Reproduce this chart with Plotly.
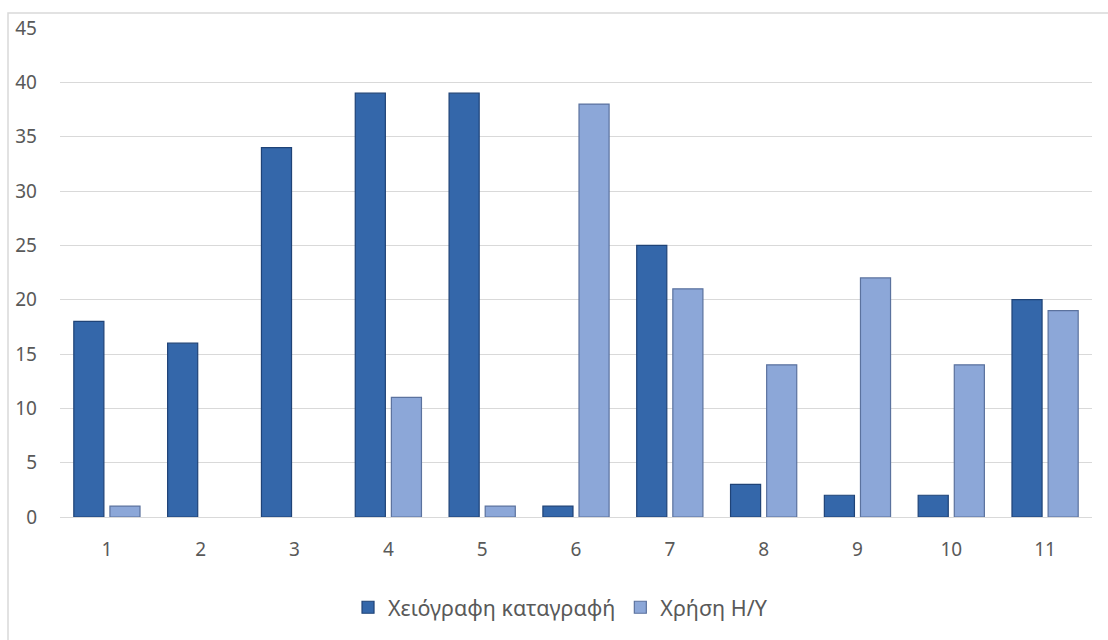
import plotly.graph_objects as go

categories = ["1", "2", "3", "4", "5", "6", "7", "8", "9", "10", "11"]
handwritten = [18, 16, 34, 39, 39, 1, 25, 3, 2, 2, 20]
computer = [1, 0, 0, 11, 1, 38, 21, 14, 22, 14, 19]
series_names = ["Χειόγραφη καταγραφή", "Χρήση Η/Υ"]
y_ticks = [0, 5, 10, 15, 20, 25, 30, 35, 40, 45]

W, H = 1108, 640
L, R, T, B = 60, 16, 28, 119
pw, ph = W - L - R, H - T - B


def px_x(x):
    return (x - L) / pw


def px_y(y):
    return (H - B - y) / ph


def outline(values, w=1.2):
    # no outline on empty bars, so a zero draws nothing
    return [w if v > 0 else 0 for v in values]


fig = go.Figure()
fig.add_trace(go.Bar(
    x=categories, y=handwritten, name=series_names[0],
    marker=dict(color="#3467aa", line=dict(color="#1f4377", width=outline(handwritten))),
))
fig.add_trace(go.Bar(
    x=categories, y=computer, name=series_names[1],
    marker=dict(color="#8ca7d8", line=dict(color="#5b729e", width=outline(computer))),
))

fig.update_layout(
    width=W, height=H,
    margin=dict(l=L, r=R, t=T, b=B),
    paper_bgcolor="white", plot_bgcolor="white",
    barmode="group", bargap=0.23, bargroupgap=0.167,
    font=dict(family="Noto Sans", size=19, color="#595959"),
    showlegend=True,
    legend=dict(orientation="h", x=0.485, xanchor="center", y=px_y(612), yanchor="middle",
                font=dict(size=21.5, color="#595959"), itemwidth=30),
    shapes=[dict(type="rect", xref="paper", yref="paper",
                 x0=px_x(8), x1=px_x(1130), y0=px_y(660), y1=px_y(13),
                 line=dict(color="#d9d9d9", width=1.5), fillcolor="rgba(0,0,0,0)", layer="below")],
)
fig.update_xaxes(showgrid=False, showline=True, linecolor="#d9d9d9", linewidth=1,
                 ticks="", ticklabelstandoff=15, tickfont=dict(size=19, color="#595959"))
fig.update_yaxes(range=[0, 45], tickvals=y_ticks, showgrid=True, gridcolor="#d9d9d9",
                 gridwidth=1, zeroline=False, showline=False, ticks="",
                 ticklabelstandoff=22, tickfont=dict(size=19, color="#595959"))

fig.write_html("out.html")
